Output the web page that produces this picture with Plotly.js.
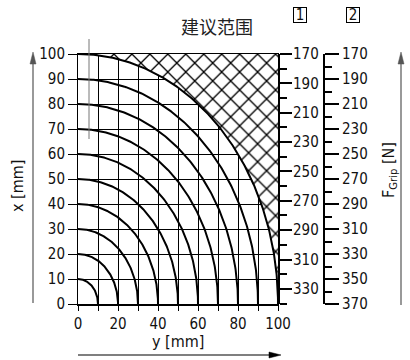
<!DOCTYPE html>
<html><head><meta charset="utf-8">
<script src="https://cdn.plot.ly/plotly-3.0.1.min.js"></script>
<style>html,body{margin:0;padding:0;background:#fff}</style>
</head><body><div id="chart" style="width:410px;height:360px"></div>
<script>
// ---- data ----
const radii = [10, 20, 30, 40, 50, 60, 70, 80, 90, 100];   // curves (mm)
const axisRange = [0, 100];                                  // x [mm] and y [mm]
const leftTickStep = 10;
const bottomTickStep = 20;
const hatchRadius = 100;                                     // boundary of hatched area
const grip1Range = [340.3, 170];                             // scale 1, F_Grip [N]
const grip1Start = 170, grip1Step = 20;
const grip2Range = [370, 170];                               // scale 2, F_Grip [N]
const grip2Start = 170, grip2Step = 20;
const titleText = '建议范围';
const boxLabels = ['1', '2'];
const xTitle = 'y [mm]';
const yTitle = 'x [mm]';
const gripTitle = 'F<sub>Grip</sub> [N]';
const guideLine = {x: 5.5, y0: 66, y1: 106};                // thin grey mark at top-left

// ---- helpers ----
const W0 = 78, H0 = 304, PW = 312, PH = 250;
const px = v => (v - W0) / PW;
const py = v => (H0 - v) / PH;
const FONT = 'DejaVu Sans Condensed, DejaVu Sans, sans-serif';

function arc(r) {
  const xs = [], ys = [];
  for (let i = 0; i <= 180; i++) {
    const a = i * Math.PI / 360;
    xs.push(r * Math.sin(a));
    ys.push(r * Math.cos(a));
  }
  return {xs, ys};
}

const traces = [];
const h = arc(hatchRadius);
const hx = [axisRange[0], axisRange[1], axisRange[1]].concat(h.xs.slice().reverse());
const hy = [axisRange[1], axisRange[1], axisRange[0]].concat(h.ys.slice().reverse());
traces.push({
  x: hx, y: hy, type: 'scatter', mode: 'lines', fill: 'toself',
  fillcolor: 'white', line: {width: 0, color: 'rgba(0,0,0,0)'},
  fillpattern: {shape: 'x', fgcolor: '#000', bgcolor: '#fff', size: 12.7, solidity: 0.2, fillmode: 'replace'},
  hoverinfo: 'skip', showlegend: false
});
radii.forEach(r => {
  const a = arc(r);
  traces.push({x: a.xs, y: a.ys, type: 'scatter', mode: 'lines',
    line: {color: '#000', width: 2}, hoverinfo: 'skip', showlegend: false});
});
traces.push({x: [null], y: [null], yaxis: 'y2', type: 'scatter', showlegend: false, hoverinfo: 'skip'});
traces.push({x: [null], y: [null], yaxis: 'y3', type: 'scatter', showlegend: false, hoverinfo: 'skip'});

const tickFont = {family: FONT, size: 15, color: '#111'};

function arrowShapes(x0, y0, x1, y1, color) {
  const L = 12, Wd = 3;
  const dx = x1 - x0, dy = y1 - y0, len = Math.hypot(dx, dy);
  const ux = dx / len, uy = dy / len;
  const bx = x1 - ux * L, by = y1 - uy * L;
  const p1 = [bx - uy * Wd, by + ux * Wd], p2 = [bx + uy * Wd, by - ux * Wd];
  return [
    {type: 'line', xref: 'paper', yref: 'paper', x0: px(x0), y0: py(y0), x1: px(bx), y1: py(by),
     line: {color: color, width: 1.2}},
    {type: 'path', xref: 'paper', yref: 'paper',
     path: `M${px(x1)},${py(y1)} L${px(p1[0])},${py(p1[1])} L${px(p2[0])},${py(p2[1])} Z`,
     fillcolor: color, line: {color: color, width: 0.5}}
  ];
}

const layout = {
  width: 410, height: 360,
  margin: {l: 78, r: 20, t: 54, b: 56, pad: 0},
  paper_bgcolor: '#fff', plot_bgcolor: '#fff',
  showlegend: false,
  font: {family: FONT, size: 15, color: '#111'},
  xaxis: {
    domain: [0, 200 / PW], range: axisRange, dtick: bottomTickStep, tick0: 0,
    ticks: 'outside', ticklen: 5, tickwidth: 1, tickcolor: '#000',
    showgrid: true, gridcolor: '#000', gridwidth: 1,
    minor: {dtick: leftTickStep, ticks: 'outside', ticklen: 5, tickwidth: 1, tickcolor: '#000', showgrid: true, gridcolor: '#000', gridwidth: 1},
    showline: true, linecolor: '#000', linewidth: 1.5, mirror: true,
    zeroline: false, tickfont: tickFont, fixedrange: true
  },
  yaxis: {
    range: axisRange, dtick: leftTickStep, tick0: 0,
    ticks: 'outside', ticklen: 9, tickwidth: 1, tickcolor: '#000',
    showgrid: true, gridcolor: '#000', gridwidth: 1,
    showline: true, linecolor: '#000', linewidth: 1, mirror: true,
    zeroline: false, tickfont: tickFont, fixedrange: true
  },
  yaxis2: {
    overlaying: 'y', anchor: 'x', side: 'right', range: grip1Range,
    tick0: grip1Start, dtick: grip1Step,
    ticks: 'outside', ticklen: 12, tickwidth: 2, tickcolor: '#000', ticklabelstandoff: -2,
    minor: {dtick: grip1Step / 2, ticks: 'outside', ticklen: 7, tickwidth: 2, tickcolor: '#000', showgrid: false},
    showline: true, linecolor: '#000', linewidth: 2, showgrid: false, zeroline: false,
    tickfont: tickFont, fixedrange: true
  },
  yaxis3: {
    overlaying: 'y', anchor: 'free', position: px(324), side: 'right', range: grip2Range,
    tick0: grip2Start, dtick: grip2Step,
    ticks: 'outside', ticklen: 14, tickwidth: 2, tickcolor: '#000',
    minor: {dtick: grip2Step / 2, ticks: 'outside', ticklen: 7, tickwidth: 2, tickcolor: '#000', showgrid: false},
    showline: true, linecolor: '#000', linewidth: 2, showgrid: false, zeroline: false,
    tickfont: tickFont, fixedrange: true
  },
  shapes: [
    {type: 'line', xref: 'paper', yref: 'paper',
     x0: guideLine.x / 100 * 200 / PW, x1: guideLine.x / 100 * 200 / PW,
     y0: guideLine.y0 / 100, y1: guideLine.y1 / 100,
     line: {color: '#777', width: 1}}
  ].concat(arrowShapes(33, 303, 33, 52, '#555'))
   .concat(arrowShapes(401, 305, 401, 52, '#555'))
   .concat(arrowShapes(78, 355, 281, 355, '#000')),
  annotations: [
    {text: titleText, xref: 'paper', yref: 'paper', x: px(217), y: py(26), showarrow: false,
     xanchor: 'center', yanchor: 'middle', font: {family: 'Noto Sans CJK SC', size: 18, color: '#222'}},
    {text: boxLabels[0], xref: 'paper', yref: 'paper', x: px(300), y: py(15), showarrow: false,
     xanchor: 'center', yanchor: 'middle', width: 12, height: 14, borderpad: 0,
     bordercolor: '#000', borderwidth: 1, font: {family: FONT, size: 15, color: '#111'}},
    {text: boxLabels[1], xref: 'paper', yref: 'paper', x: px(353), y: py(15), showarrow: false,
     xanchor: 'center', yanchor: 'middle', width: 12, height: 14, borderpad: 0,
     bordercolor: '#000', borderwidth: 1, font: {family: FONT, size: 15, color: '#111'}},
    {text: xTitle, xref: 'paper', yref: 'paper', x: px(178), y: py(341), showarrow: false,
     xanchor: 'center', yanchor: 'middle', font: {family: FONT, size: 16, color: '#111'}},
    {text: yTitle, xref: 'paper', yref: 'paper', x: px(17), y: py(186), showarrow: false,
     textangle: -90, xanchor: 'center', yanchor: 'middle', font: {family: FONT, size: 16, color: '#111'}},
    {text: gripTitle, xref: 'paper', yref: 'paper', x: px(389), y: py(170), showarrow: false,
     textangle: -90, xanchor: 'center', yanchor: 'middle', font: {family: FONT, size: 16, color: '#111'}}
  ]
};

Plotly.newPlot('chart', traces, layout, {displayModeBar: false, staticPlot: true});
</script></body></html>
